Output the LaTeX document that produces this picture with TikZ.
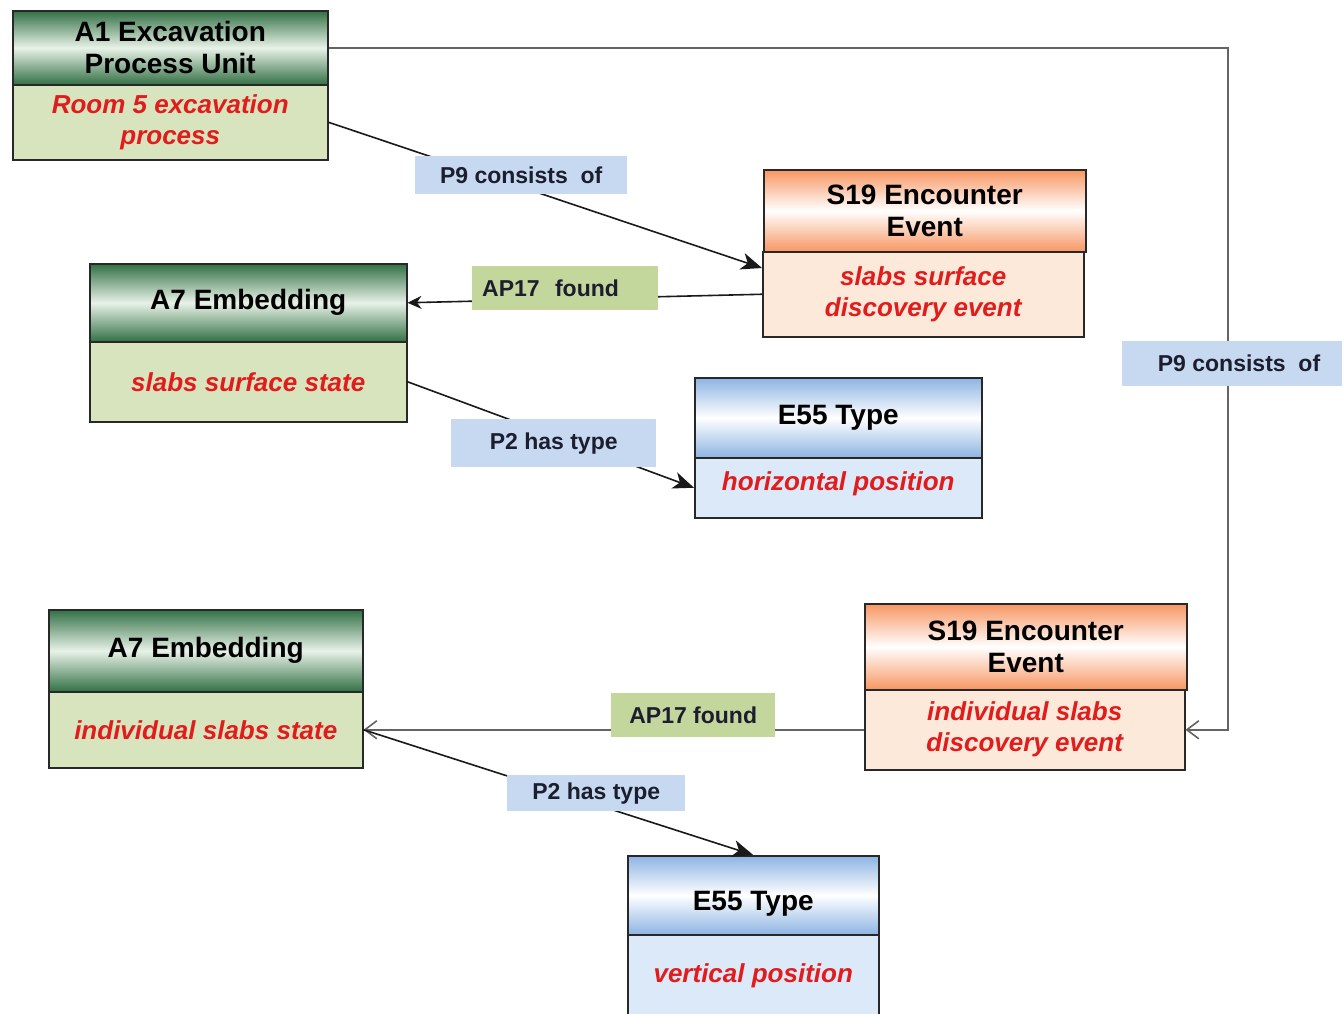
\documentclass[tikz,border=0pt]{standalone}
\usepackage{fontspec}
\setmainfont{Liberation Sans}
\usetikzlibrary{arrows.meta,calc}
\definecolor{gdark}{RGB}{50,112,68}
\definecolor{gmid}{RGB}{232,242,232}
\definecolor{gbody}{RGB}{215,228,189}
\definecolor{odark}{RGB}{247,150,98}
\definecolor{obody}{RGB}{253,233,217}
\definecolor{bdark}{RGB}{141,180,226}
\definecolor{bbody}{RGB}{220,233,248}
\definecolor{lblblue}{RGB}{198,217,241}
\definecolor{lblgreen}{RGB}{195,214,155}
\definecolor{redtxt}{RGB}{225,28,28}
\definecolor{navytxt}{RGB}{28,30,48}
\definecolor{edgecol}{RGB}{40,40,40}
\definecolor{greyline}{RGB}{100,100,100}
\newcommand{\shiftdown}[2]{\raisebox{-#1}[\height][\depth]{#2}}
\begin{document}
\begin{tikzpicture}[x=1pt,y=-1pt,
  box/.style={draw=edgecol, line width=1.5pt, inner sep=0pt, anchor=north west, align=center},
  sz/.style 2 args={minimum width=#1pt, minimum height=#2pt},
  hdr/.style={box, font=\bfseries\fontsize{28}{32}\selectfont, text=black},
  bodybox/.style={box, font=\bfseries\itshape\fontsize{26}{31}\selectfont, text=redtxt},
  ghdr/.style={hdr, top color=gdark, bottom color=gdark, middle color=gmid},
  ohdr/.style={hdr, top color=odark, bottom color=odark, middle color=white},
  bhdr/.style={hdr, top color=bdark, bottom color=bdark, middle color=white},
  gbodybox/.style={bodybox, fill=gbody},
  obodybox/.style={bodybox, fill=obody},
  bbodybox/.style={bodybox, fill=bbody},
  lbl/.style={inner sep=0pt, anchor=north west, align=center, font=\bfseries\fontsize{23}{26}\selectfont, text=navytxt},
  lblb/.style={lbl, fill=lblblue},
  lblg/.style={lbl, fill=lblgreen},
  darkline/.style={draw=black!90, line width=1.6pt},
  greyconn/.style={draw=greyline, line width=2pt},
  solidtip/.style={-{Stealth[length=21pt,width=17pt,inset=6pt]}},
  smalltip/.style={-{Stealth[length=14pt,width=13pt]}},
  opentip/.style={-{Straight Barb[length=12pt,width=18pt,line width=1.6pt]}}
]
\useasboundingbox (0,0) rectangle (1342,1013);
\fill[white] (0,0) rectangle (1342,1013);

% boxes
\node[ghdr, sz={315}{74}] (a1h) at (12,10) {A1 Excavation\\Process Unit};
\node[gbodybox, sz={315}{75}] (a1b) at (12,84) {Room 5 excavation\\process};

\node[ohdr, sz={322}{82}] (s1h) at (763,169) {S19 Encounter\\Event};
\node[obodybox, sz={321}{85}] (s1b) at (762,251) {slabs surface\\discovery event};

\node[ghdr, sz={317}{78}] (a7h) at (89,263) {A7 Embedding};
\node[gbodybox, sz={317}{80}] (a7b) at (89,341) {slabs surface state};

\node[bhdr, sz={287}{80}] (e1h) at (694,377) {E55 Type};
\node[bbodybox, sz={287}{60}] (e1b) at (694,457) {\shiftdown{-4pt}{horizontal position}};

\node[ohdr, sz={322}{86}] (s2h) at (864,603) {S19 Encounter\\Event};
\node[obodybox, sz={320}{80}] (s2b) at (864,689) {individual slabs\\discovery event};

\node[ghdr, sz={314}{82}] (a8h) at (48,609) {A7 Embedding};
\node[gbodybox, sz={314}{76}] (a8b) at (48,691) {individual slabs state};

\node[bhdr, sz={251}{79}] (e2h) at (627,855) {\shiftdown{9pt}{E55 Type}};
\node[bbodybox, sz={251}{82}] (e2b) at (627,934) {vertical position};

% connectors
\coordinate (rc) at (1228,0);
\draw[darkline, solidtip] (a1b.east) -- ($(s1b.north west)+(0,17)$);
\draw[darkline, smalltip] (s1b.west) -- (a7h.east);
\draw[darkline, solidtip] (a7b.east) -- (e1b.west);
\draw[greyconn, opentip] (s2b.west) -- (a8b.east);
\draw[darkline, solidtip] (a8b.east) -- (e2h.north);
\draw[greyconn, opentip] (a1h.east) -- (a1h.east -| rc) -- (rc |- s2b.east) -- (s2b.east);

% labels
\node[lblb, sz={212}{38}] (l1) at (415,156) {P9 consists\ \ of};
\node[lblg, sz={186}{44}, text width=166pt, inner xsep=10pt, align=left] (l2) at (472,266) {AP17\ \ found};
\node[lblb, sz={220}{45}, text width=176pt, inner xsep=22pt, align=flush right] (l3) at (1122,341) {P9 consists\ \ of};
\node[lblb, sz={205}{48}] (l4) at (451,419) {P2 has type};
\node[lblg, sz={164}{44}] (l5) at (611,693) {AP17 found};
\node[lblb, sz={178}{36}] (l6) at (507,775) {P2 has type};
\end{tikzpicture}
\end{document}
